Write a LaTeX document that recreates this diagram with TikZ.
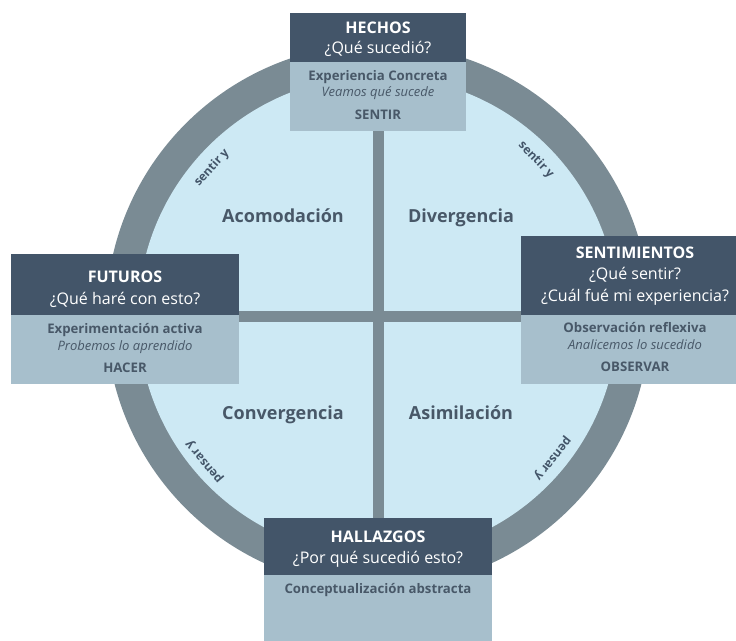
\documentclass[tikz,border=0pt]{standalone}
\usepackage{fontspec}
\setmainfont{Open Sans}
\usetikzlibrary{positioning}

\definecolor{headblue}{RGB}{67,85,105}
\definecolor{bodyblue}{RGB}{167,191,204}
\definecolor{ringgray}{RGB}{122,139,148}
\definecolor{discblue}{RGB}{205,233,244}
\definecolor{textgray}{RGB}{72,88,104}

\tikzset{
  headbox/.style={fill=headblue, inner sep=0pt, anchor=north west, minimum width=228},
  bodybox/.style={fill=bodyblue, inner sep=0pt, anchor=north west, minimum width=228},
  bar/.style={draw=ringgray, line width=11pt},
  headtitle/.style={anchor=base, text=white, font=\bfseries\fontsize{16}{20}\selectfont},
  headtext/.style={anchor=base, text=white, font=\fontsize{16}{20}\selectfont},
  bodytitle/.style={anchor=base, text=textgray, font=\bfseries\fontsize{13.2}{16}\selectfont},
  bodytext/.style={anchor=base, text=textgray, font=\itshape\fontsize{13}{16}\selectfont},
  quadlabel/.style={anchor=base, text=textgray, font=\bfseries\fontsize{18}{21}\selectfont},
  ringlabel/.style={text=headblue, font=\bfseries\fontsize{12}{14}\selectfont, inner sep=0pt}
}

\begin{document}
\begin{tikzpicture}[x=1pt,y=-1pt]
\useasboundingbox (0,0) rectangle (736,640);
\clip (0,0) rectangle (736,640);

% ring and disc
\coordinate (C) at (378,316);
\fill[ringgray] (C) circle (272);
\fill[discblue] (C) circle (240);

% boxes
\node[headbox, minimum width=176, minimum height=49] (hechosH) at (290,13) {};
\node[bodybox, minimum width=176, minimum height=69] (hechosB) at (290,62) {};
\node[headbox, minimum height=61] (futurosH) at (11,254) {};
\node[bodybox, minimum height=69] (futurosB) at (11,315) {};
\node[headbox, minimum height=79] (sentimientosH) at (521,236) {};
\node[bodybox, minimum height=69] (sentimientosB) at (521,315) {};
\node[headbox, minimum height=57] (hallazgosH) at (264,518) {};
\node[bodybox, minimum height=80] (hallazgosB) at (264,575) {};

% cross bars
\draw[bar] (hechosB.south) -- (hallazgosH.north);
\draw[bar] (C -| futurosB.east) -- (C -| sentimientosB.west);

% Text Node: top
\node[headtitle] (hechosT) at (378,33) {HECHOS};
\node[headtext] (hechosQ) at (378,53) {¿Qué sucedió?};
\node[bodytitle] (hechosE) at (378,80.5) {Experiencia Concreta};
\node[bodytext] (hechosV) at (378,96.5) {Veamos qué sucede};
\node[bodytitle] (hechosS) at (378,119) {SENTIR};

% Text Node: left
\node[headtitle] (futurosT) at (125,282.5) {FUTUROS};
\node[headtext] (futurosQ) at (125,304) {¿Qué haré con esto?};
\node[bodytitle] (futurosE) at (125,333) {Experimentación activa};
\node[bodytext] (futurosV) at (125,350) {Probemos lo aprendido};
\node[bodytitle] (futurosS) at (125,372.5) {HACER};

% Text Node: right
\node[headtitle] (sentimientosT) at (635,258) {SENTIMIENTOS};
\node[headtext] (sentimientosQ) at (635,279) {¿Qué sentir?};
\node[headtext] (sentimientosR) at (635,301) {¿Cuál fué mi experiencia?};
\node[bodytitle] (sentimientosE) at (635,332.5) {Observación reflexiva};
\node[bodytext] (sentimientosV) at (635,349) {Analicemos lo sucedido};
\node[bodytitle] (sentimientosS) at (635,371.5) {OBSERVAR};

% Text Node: bottom
\node[headtitle] (hallazgosT) at (378,542) {HALLAZGOS};
\node[headtext] (hallazgosQ) at (378,563) {¿Por qué sucedió esto?};
\node[bodytitle] (hallazgosE) at (378,593) {Conceptualización abstracta};

% Text Node: quadrants
\node[quadlabel] (acomodacion) at (283,222) {Acomodación};
\node[quadlabel] (divergencia) at (461,222) {Divergencia};
\node[quadlabel] (convergencia) at (283,419) {Convergencia};
\node[quadlabel] (asimilacion) at (461,419) {Asimilación};

% Text Node: along the ring
\node[ringlabel, rotate=48] (sentirL) at (212,168) {sentir y};
\node[ringlabel, rotate=-46] (sentirR) at (536,160) {sentir y};
\node[ringlabel, rotate=130] (pensarL) at (205,461) {pensar y};
\node[ringlabel, rotate=231] (pensarR) at (552,458) {pensar y};

\end{tikzpicture}
\end{document}
